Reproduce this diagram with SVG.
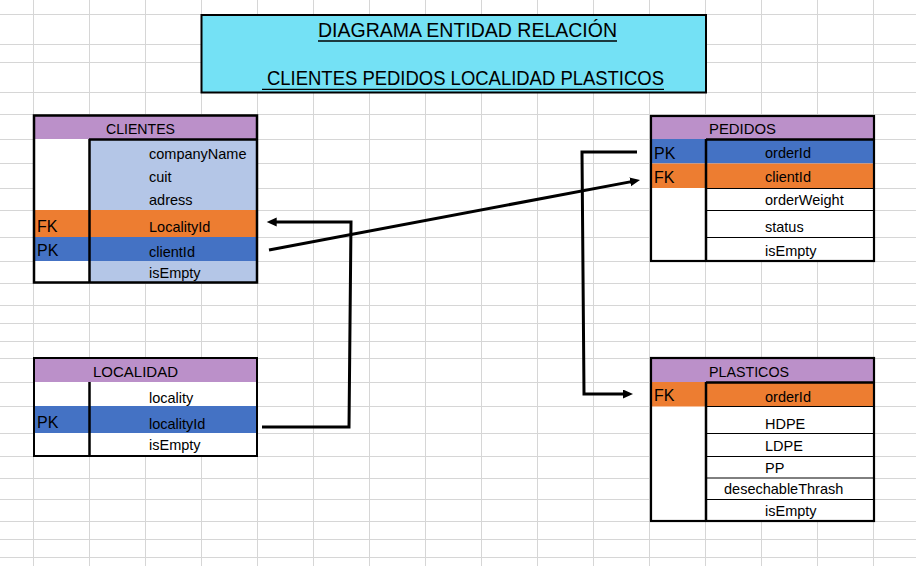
<svg xmlns="http://www.w3.org/2000/svg" width="916" height="566" viewBox="0 0 916 566">
<style>
.grid{stroke:#d6d6d6;stroke-width:1;fill:none}
.t{font-family:"Liberation Sans",Arial,sans-serif;fill:#000}
.f{font-size:14.5px}
.h{font-size:15.5px}
.k{font-size:16px}
.title{font-size:19.5px}
.hdr{fill:#bb90c9}
.lb{fill:#b4c6e7}
.or{fill:#ed7d31}
.bl{fill:#4472c4}
.wh{fill:#fff}
.ob{fill:none;stroke:#000;stroke-width:2.5}
.ib{fill:none;stroke:#000;stroke-width:2.5}
.rl{fill:none;stroke:#000;stroke-width:1}
.conn{fill:none;stroke:#000;stroke-width:3;stroke-linejoin:miter}
</style>
<defs>
<marker id="arrow" markerUnits="userSpaceOnUse" markerWidth="11" markerHeight="10" refX="4" refY="4.5" orient="auto">
<path d="M0,0 L10,4.5 L0,9 z" fill="#000"/>
</marker>
</defs>
<rect x="0" y="0" width="916" height="566" fill="#fff"/>
<path class="grid" d="M0 14.5H916M0 44.5H916M0 62.5H916M0 92.5H916M0 114.5H916M0 139.5H916M0 163.5H916M0 188.5H916M0 210.5H916M0 237.5H916M0 261.5H916M0 283.5H916M0 305.5H916M0 323.5H916M0 341.5H916M0 358.5H916M0 382.5H916M0 406.5H916M0 433.5H916M0 456.5H916M0 478.5H916M0 499.5H916M0 521.5H916M0 539.5H916M0 557.5H916M33.5 0V566M89.5 0V566M145.5 0V566M201.5 0V566M257.5 0V566M313.5 0V566M369.5 0V566M425.5 0V566M481.5 0V566M537.5 0V566M593.5 0V566M649.5 0V566M705.5 0V566M761.5 0V566M817.5 0V566M873.5 0V566"/>

<g id="title">
<rect x="201.5" y="15" width="504.5" height="77.5" fill="#74e1f5" stroke="#000" stroke-width="2"/>
<text class="t title" x="318" y="37.3" textLength="299" lengthAdjust="spacingAndGlyphs">DIAGRAMA ENTIDAD RELACIÓN</text>
<line x1="318" y1="41" x2="617" y2="41" stroke="#000" stroke-width="1.3"/>
<text class="t title" x="267" y="85.3" textLength="397" lengthAdjust="spacingAndGlyphs">CLIENTES PEDIDOS LOCALIDAD PLASTICOS</text>
<line x1="262" y1="89.3" x2="664" y2="89.3" stroke="#000" stroke-width="1.3"/>
</g>

<g id="clientes">
<rect class="hdr" x="33" y="115" width="224" height="24"/>
<rect class="wh" x="33" y="139" width="56" height="144"/>
<rect class="lb" x="89" y="139" width="168" height="144"/>
<rect class="or" x="33" y="210" width="224" height="27"/>
<rect class="bl" x="33" y="237" width="224" height="24"/>
<rect class="ob" x="34" y="115.5" width="223" height="167"/>
<path class="ib" d="M89.5 139V283M89 139.5H257"/>
<text class="t h" x="106" y="134" textLength="69" lengthAdjust="spacingAndGlyphs">CLIENTES</text>
<text class="t f" x="149" y="159">companyName</text>
<text class="t f" x="149" y="182">cuit</text>
<text class="t f" x="149" y="205">adress</text>
<text class="t f" x="149" y="232">LocalityId</text>
<text class="t f" x="149" y="256.5">clientId</text>
<text class="t f" x="149" y="278">isEmpty</text>
<text class="t k" x="37" y="231.5">FK</text>
<text class="t k" x="37" y="256">PK</text>
</g>

<g id="localidad">
<rect class="hdr" x="33" y="358" width="224" height="24"/>
<rect class="wh" x="33" y="382" width="224" height="74"/>
<rect class="bl" x="33" y="406" width="224" height="27"/>
<rect x="34" y="358" width="223" height="98" fill="none" stroke="#000" stroke-width="2"/>
<path d="M89.5 382V456" stroke="#000" stroke-width="2.5" fill="none"/>
<text class="t h" x="93" y="377" textLength="85" lengthAdjust="spacingAndGlyphs">LOCALIDAD</text>
<text class="t f" x="149" y="402.5">locality</text>
<text class="t f" x="149" y="429">localityId</text>
<text class="t f" x="149" y="450">isEmpty</text>
<text class="t k" x="37" y="427.5">PK</text>
</g>

<g id="pedidos">
<rect class="hdr" x="650" y="115.5" width="224" height="24"/>
<rect class="wh" x="650" y="139" width="224" height="122"/>
<rect class="bl" x="650" y="139" width="224" height="24.5"/>
<rect class="or" x="650" y="163.5" width="224" height="24.5"/>
<path class="rl" d="M706 188.5H874M706 210.5H874M706 237.5H874"/>
<rect x="651" y="116" width="223" height="145" fill="none" stroke="#000" stroke-width="2.2"/>
<path d="M706 139V261M706 139.5H874" stroke="#000" stroke-width="2.5" fill="none"/>
<text class="t h" x="709" y="133.5" textLength="67" lengthAdjust="spacingAndGlyphs">PEDIDOS</text>
<text class="t f" x="765" y="158">orderId</text>
<text class="t f" x="765" y="182">clientId</text>
<text class="t f" x="765" y="205">orderWeight</text>
<text class="t f" x="765" y="232">status</text>
<text class="t f" x="765" y="255.5">isEmpty</text>
<text class="t k" x="654" y="158.5">PK</text>
<text class="t k" x="654" y="182.5">FK</text>
</g>

<g id="plasticos">
<rect class="hdr" x="650" y="358" width="224" height="24"/>
<rect class="wh" x="650" y="382" width="224" height="139"/>
<rect class="or" x="650" y="382" width="224" height="24.5"/>
<path class="rl" d="M706 406.5H874M706 433.5H874M706 456.5H874M706 478H874M706 499.5H874"/>
<rect x="651" y="358" width="223" height="163" fill="none" stroke="#000" stroke-width="2.2"/>
<path d="M706 382V521M706 382.5H874" stroke="#000" stroke-width="2.5" fill="none"/>
<text class="t h" x="709" y="377" textLength="80" lengthAdjust="spacingAndGlyphs">PLASTICOS</text>
<text class="t f" x="765" y="401.5">orderId</text>
<text class="t f" x="765" y="428.5">HDPE</text>
<text class="t f" x="765" y="451">LDPE</text>
<text class="t f" x="765" y="472.5">PP</text>
<text class="t f" x="724" y="494">desechableThrash</text>
<text class="t f" x="765" y="516">isEmpty</text>
<text class="t k" x="654" y="401">FK</text>
</g>

<g id="connectors">
<polyline class="conn" points="262,427 349,427 351,222 272.7,222" marker-end="url(#arrow)"/>
<line class="conn" x1="269" y1="250" x2="634.1" y2="181.1" marker-end="url(#arrow)"/>
<polyline class="conn" points="637,152 582,152 584,394 627,394" marker-end="url(#arrow)"/>
</g>
</svg>
